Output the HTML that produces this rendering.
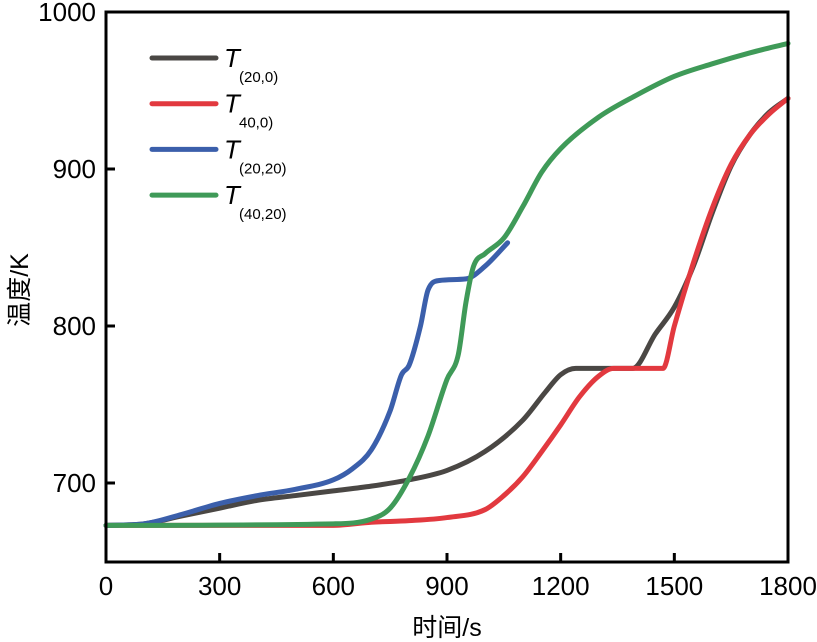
<!DOCTYPE html>
<html><head><meta charset="utf-8"><style>
body{margin:0;background:#fff}
svg{display:block;font-family:"Liberation Sans","Noto Sans CJK SC",sans-serif}
</style></head><body>
<svg id="c" width="817" height="642"></svg>
<script>
const xTicks=[0,300,600,900,1200,1500,1800];
const yTicks=[700,800,900,1000];
const t20_0=[[0,673],[100,674],[200,679],[300,684],[400,689],[500,692],[600,695],[700,698],[800,702],[900,708],[1000,720],[1100,740],[1160,758],[1200,769],[1240,773],[1390,773],[1450,795],[1500,812],[1550,838],[1600,872],[1650,902],[1700,922],[1750,936],[1800,945]];
const t40_0=[[0,673],[600,673],[700,675],[800,676],[900,678],[1000,683],[1050,692],[1100,704],[1150,720],[1200,737],[1250,755],[1300,768],[1340,773],[1470,773],[1500,800],[1550,840],[1600,875],[1650,903],[1700,922],[1750,935],[1800,945]];
const t20_20=[[0,673],[100,674],[200,680],[300,687],[400,692],[500,696],[600,702],[650,709],[700,721],[750,746],[780,769],[800,775],[830,800],[850,823],[880,829],[950,830],[1000,838],[1060,853]];
const t40_20=[[0,673],[600,674],[700,677],[750,684],[800,703],[850,730],[900,766],[930,782],[950,815],[970,838],[1000,846],[1050,856],[1100,876],[1150,898],[1200,913],[1300,933],[1400,947],[1500,959],[1600,967],[1700,974],[1800,980]];
const series=[["t-20-0",t20_0,"#4a4744","(20,0)"],["t-40-0",t40_0,"#e2393f","40,0)"],["t-20-20",t20_20,"#3b5fab","(20,20)"],["t-40-20",t40_20,"#3f9a58","(40,20)"]];
const X0=106,X1=788,Y0=12,YB=562;
const sx=v=>X0+(v/1800)*(X1-X0);
const sy=v=>Y0+(1000-v)*1.57;
const NS="http://www.w3.org/2000/svg";
const svg=document.getElementById('c');
function mk(tag,attrs,parent){const e=document.createElementNS(NS,tag);for(const k in attrs)e.setAttribute(k,attrs[k]);(parent||svg).appendChild(e);return e;}
function path(pts){
  const p=pts.map(d=>[sx(d[0]),sy(d[1])]);const n=p.length;
  const dl=[],m=[];
  for(let i=0;i<n-1;i++)dl.push((p[i+1][1]-p[i][1])/(p[i+1][0]-p[i][0]));
  m[0]=dl[0];m[n-1]=dl[n-2];
  for(let i=1;i<n-1;i++){m[i]=(dl[i-1]*dl[i]<=0)?0:(dl[i-1]+dl[i])/2;}
  for(let i=0;i<n-1;i++){if(dl[i]===0){m[i]=0;m[i+1]=0;continue;}const a=m[i]/dl[i],b=m[i+1]/dl[i],s=a*a+b*b;if(s>9){const t=3/Math.sqrt(s);m[i]=t*a*dl[i];m[i+1]=t*b*dl[i];}}
  let s=`M${p[0][0]},${p[0][1]}`;
  for(let i=0;i<n-1;i++){const h=(p[i+1][0]-p[i][0])/3;s+=`C${p[i][0]+h},${p[i][1]+m[i]*h} ${p[i+1][0]-h},${p[i+1][1]-m[i+1]*h} ${p[i+1][0]},${p[i+1][1]}`;}
  return s;}
series.forEach(s=>{const e=mk('path',{d:path(s[1]),fill:'none',stroke:s[2],'stroke-width':5,'stroke-linejoin':'round','stroke-linecap':'round'});

});
const fr=mk('rect',{x:X0,y:Y0,width:X1-X0,height:YB-Y0,fill:'none',stroke:'#000','stroke-width':3});


xTicks.forEach(v=>{const l=mk('line',{x1:sx(v),x2:sx(v),y1:YB,y2:YB-9,stroke:'#000','stroke-width':3});


const t=mk('text',{x:sx(v),y:595,'text-anchor':'middle','font-size':26});t.textContent=v;

});
yTicks.forEach(v=>{const l=mk('line',{x1:X0,x2:X0+9,y1:sy(v),y2:sy(v),stroke:'#000','stroke-width':3});


const t=mk('text',{x:96,y:sy(v)+9,'text-anchor':'end','font-size':26});t.textContent=v;

});
series.forEach((s,i)=>{const y=58+i*45.7;
const l=mk('line',{x1:152,x2:216,y1:y,y2:y,stroke:s[2],'stroke-width':5,'stroke-linecap':'round'});


const t=mk('text',{x:224,y:y+9,'font-size':26,'font-style':'italic'});t.textContent='T';


const sb=mk('text',{x:239,y:y+24,'font-size':15});sb.textContent=s[3];

});
const xl=mk('text',{x:447,y:636,'text-anchor':'middle','font-size':25});xl.textContent='时间/s';


const yl=mk('text',{x:0,y:0,'text-anchor':'middle','font-size':25,transform:'translate(28,290) rotate(-90)'});yl.textContent='温度/K';


</script>
</body></html>
